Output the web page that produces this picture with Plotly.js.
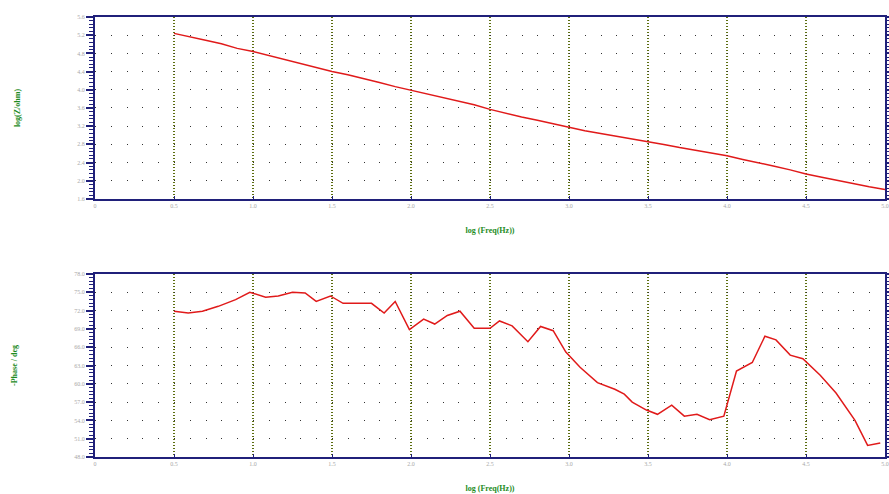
<!DOCTYPE html>
<html>
<head>
<meta charset="utf-8">
<script src="https://cdn.plot.ly/plotly-3.0.1.min.js"></script>
<style>html,body{margin:0;padding:0;background:#fff;}#chart{width:889px;height:494px;}</style>
</head>
<body>
<div id="chart"></div>
<script>
// log(Freq) values for the impedance magnitude curve
const logFreqZ = [0.5,0.6,0.7,0.8,0.9,1.0,1.1,1.2,1.3,1.4,1.5,1.6,1.7,1.8,1.9,2.0,2.1,2.2,2.3,2.4,2.5,2.6,2.7,2.8,2.9,3.0,3.1,3.2,3.3,3.4,3.5,3.6,3.7,3.8,3.9,4.0,4.1,4.2,4.3,4.4,4.5,4.6,4.7,4.8,4.9,5.0];
const logZ = [5.24,5.17,5.09,5.01,4.91,4.84,4.75,4.66,4.58,4.49,4.40,4.33,4.25,4.16,4.07,3.99,3.91,3.83,3.76,3.67,3.57,3.48,3.40,3.33,3.25,3.18,3.10,3.04,2.98,2.93,2.86,2.80,2.73,2.67,2.62,2.55,2.47,2.40,2.32,2.24,2.15,2.08,2.01,1.93,1.87,1.81];

// log(Freq) values for the phase curve
const logFreqP = [0.50,0.59,0.68,0.78,0.89,0.98,1.08,1.16,1.25,1.33,1.40,1.49,1.57,1.75,1.83,1.90,1.99,2.08,2.15,2.23,2.31,2.40,2.50,2.56,2.64,2.68,2.74,2.82,2.90,2.98,3.07,3.18,3.29,3.35,3.40,3.49,3.56,3.65,3.73,3.81,3.89,3.98,4.06,4.16,4.24,4.31,4.40,4.48,4.59,4.69,4.81,4.89,4.97];
const phase = [71.9,71.6,71.9,72.7,73.8,75.0,74.2,74.4,75.0,74.9,73.5,74.4,73.2,73.2,71.6,73.5,68.9,70.6,69.8,71.2,71.9,69.1,69.1,70.3,69.5,68.4,66.9,69.4,68.7,65.2,62.7,60.2,59.1,58.3,57.0,55.7,55.0,56.5,54.7,55.0,54.1,54.7,62.1,63.5,67.8,67.2,64.7,64.1,61.4,58.5,54.0,49.9,50.3];

const xTickVals = [0,0.5,1.0,1.5,2.0,2.5,3.0,3.5,4.0,4.5,5.0];
const xTickText = ['0','0.5','1.0','1.5','2.0','2.5','3.0','3.5','4.0','4.5','5.0'];

const navy = '#20207a';
const green = '#1e8c1e';
const tickFont = {family:'Liberation Serif, serif', size:6, color:'#a8a8a8'};
const titleFont = {family:'Liberation Serif, serif', size:8, color:green, weight:'bold'};

function xAxis(anchor){
  return {
    anchor: anchor, range:[0,5], tickvals:xTickVals, ticktext:xTickText,
    showline:true, mirror:true, linecolor:navy, linewidth:2,
    ticks:'inside', ticklen:3, tickcolor:navy, tickwidth:1,
    showgrid:true, gridcolor:'#5c6e10', griddash:'1px,2px', gridwidth:1.3,
    zeroline:false, tickfont:tickFont,
    title:{text:'log (Freq(Hz))', font:titleFont, standoff:19}
  };
}
function yAxis(anchor, range, dtick, minorDtick, domain, title){
  return {
    anchor: anchor, domain: domain, range: range, dtick: dtick, tick0: range[0],
    tickformat:'.1f',
    showline:true, mirror:'allticks', linecolor:navy, linewidth:2,
    ticks:'outside', ticklen:7, tickcolor:navy, tickwidth:2,
    minor:{dtick:minorDtick, ticks:'outside', ticklen:4, tickcolor:navy, tickwidth:1, showgrid:false},
    showgrid:true, gridcolor:'#333333', griddash:'1px,14.8px', gridwidth:1,
    zeroline:false, tickfont:tickFont,
    title:{text:title, font:titleFont, standoff:55}
  };
}

const data = [
  {x:logFreqZ, y:logZ, xaxis:'x', yaxis:'y', mode:'lines', line:{color:'#e01a1a', width:1.5}, hoverinfo:'skip'},
  {x:logFreqP, y:phase, xaxis:'x2', yaxis:'y2', mode:'lines', line:{color:'#e01a1a', width:1.5}, hoverinfo:'skip'}
];

const layout = {
  width:889, height:494,
  margin:{l:95, r:4, t:17, b:37},
  paper_bgcolor:'#ffffff', plot_bgcolor:'#ffffff',
  showlegend:false,
  xaxis: xAxis('y'),
  yaxis: yAxis('x', [1.6,5.6], 0.4, 0.08, [0.5864,1], 'log(Z/ohm)'),
  xaxis2: xAxis('y2'),
  yaxis2: yAxis('x2', [48,78], 3, 0.6, [0,0.4159], '-Phase / deg')
};

Plotly.newPlot('chart', data, layout, {staticPlot:true, displayModeBar:false});
</script>
</body>
</html>
